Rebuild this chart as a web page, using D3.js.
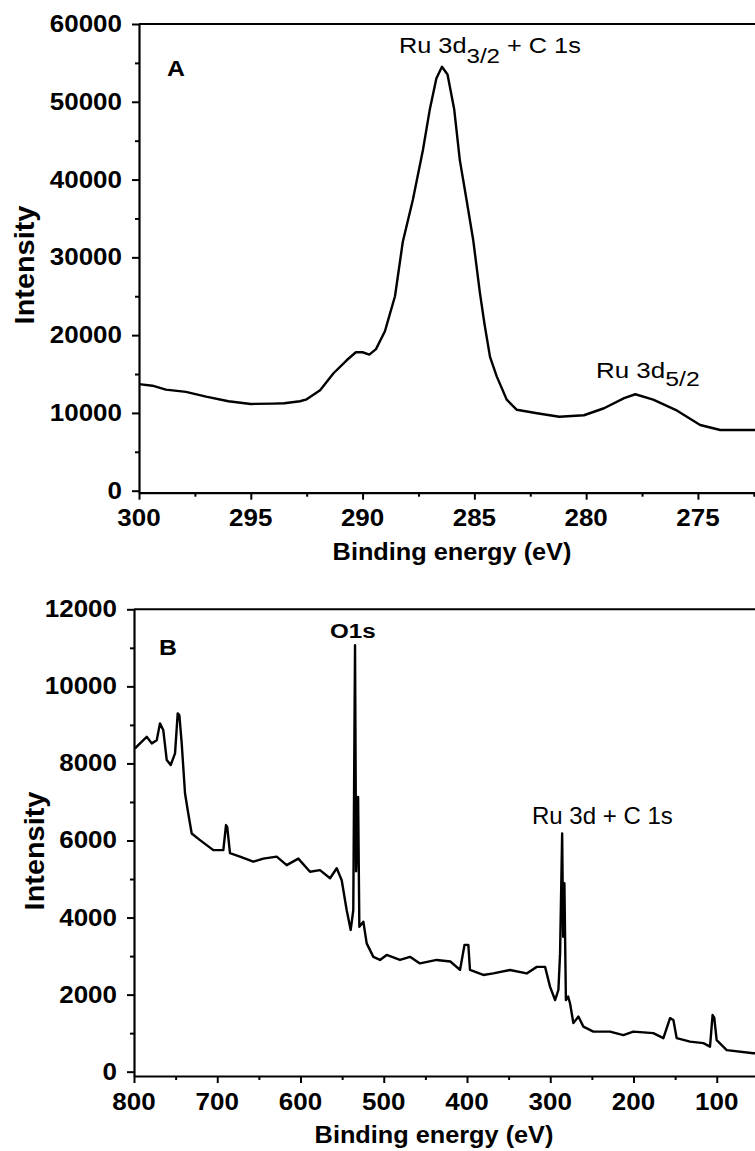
<!DOCTYPE html>
<html><head><meta charset="utf-8">
<script src="https://cdn.jsdelivr.net/npm/d3@7"></script>
<style>
body{margin:0;background:#fff}
svg{display:block}
text{font-family:"Liberation Sans",Arial,sans-serif;fill:#000}
</style>
</head><body>
<svg id="c" width="755" height="1151"></svg>
<script>
// ---------- Panel A data (Ru 3d + C 1s region) ----------
const energyA = [300,299.4,298.8,297.9,297.0,296.0,295.0,294.0,293.5,292.8,292.5,291.9,291.3,290.7,290.3,290.0,289.7,289.4,289.0,288.8,288.55,288.2,287.75,287.3,287.0,286.7,286.45,286.2,285.9,285.65,285.35,285.05,284.75,284.55,284.3,284.0,283.55,283.1,282.2,281.2,280.1,279.2,278.3,277.8,277.0,276.0,274.9,274.0,272.0];
const intensityA = [13700,13500,13000,12700,12100,11500,11150,11200,11250,11500,11750,12900,15100,16800,17800,17800,17500,18200,20500,22500,25000,32000,37400,43800,48900,53000,54500,53500,49000,42500,37400,32200,25400,21500,17200,14700,11700,10400,9950,9500,9700,10600,11900,12400,11700,10400,8450,7800,7800];
const xTicksA = [300,295,290,285,280,275];
const xMinorA = [297.5,292.5,287.5,282.5,277.5,272.5];
const yTicksA = [0,10000,20000,30000,40000,50000,60000];
const yMinorA = [5000,15000,25000,35000,45000,55000];

// ---------- Panel B data (survey) ----------
const energyB = [798.8,792.8,784.7,778.7,772.7,768.8,764.8,760.7,755.9,750.7,747.5,745.5,742.7,738.7,734.8,730.7,720.7,704.7,692.7,689.5,688,684.7,672.7,656.7,644.7,628.6,616.6,602.6,588.6,576.6,564.5,556.5,550.5,544.5,539.7,536.6,534.5,533.2,530.8,529.3,524.5,520.5,512.5,504.5,496.5,480.5,468.5,456.5,436.4,420,408.4,403,398.4,396.4,380.4,368.4,348.3,328.3,316.2,306.2,300.2,294.2,290.2,288.2,285.7,284.5,283.0,281.2,278.5,276.2,272.2,266.2,260.2,248.2,228.2,212.2,200.2,176.2,164.1,156.1,152.1,148.1,132.1,116.1,108.1,105,103,100.1,88,56,50];
const intensityB = [8390,8520,8690,8520,8600,9040,8860,8090,7960,8260,9300,9250,8520,7220,6700,6180,6010,5750,5750,6400,6350,5670,5580,5450,5530,5580,5360,5530,5190,5230,5020,5280,4970,4190,3680,4190,11070,5200,7130,3760,3890,3330,2980,2900,3030,2900,2980,2810,2900,2860,2640,3290,3290,2640,2510,2550,2640,2550,2720,2720,2200,1860,2120,3070,6180,3500,4890,1860,1950,1770,1260,1430,1170,1040,1040,950,1040,1000,870,1390,1340,870,780,740,650,1470,1400,820,560,480,470];
const xTicksB = [800,700,600,500,400,300,200,100];
const xMinorB = [750,650,550,450,350,250,150,50];
const yTicksB = [0,2000,4000,6000,8000,10000,12000];
const yMinorB = [1000,3000,5000,7000,9000,11000];

const svg = d3.select("#c");
const SX = 1.13; // horizontal glyph stretch seen in the reference

function label(g, x, y, str, o = {}) {
  const t = g.append("text")
    .attr("transform", `translate(${x},${y}) scale(${o.sx ?? SX},1)`)
    .attr("text-anchor", o.anchor || "start")
    .attr("font-size", o.size || 22)
    .attr("font-weight", o.weight || "bold")
    .text(str);
  return t;
}

function panel(cfg) {
  const g = svg.append("g");
  const x = d3.scaleLinear().domain(cfg.xDomain).range(cfg.xRange);
  const y = d3.scaleLinear().domain(cfg.yDomain).range(cfg.yRange);
  const yBase = cfg.yRange[0];
  const x0 = cfg.xRange[0];

  // top frame
  g.append("line").attr("x1", x0).attr("x2", cfg.xRange[1]).attr("y1", cfg.yRange[1]).attr("y2", cfg.yRange[1])
    .attr("stroke", "#000").attr("stroke-width", 2);

  // x axis
  g.append("g").attr("transform", `translate(0,${yBase})`)
    .call(d3.axisBottom(x).tickValues(cfg.xTicks).tickSize(7).tickSizeOuter(0).tickFormat(""));
  g.append("g").attr("transform", `translate(0,${yBase})`)
    .call(d3.axisBottom(x).tickValues(cfg.xMinor).tickSize(4).tickFormat(""))
    .call(s => s.select(".domain").remove());
  // y axis
  g.append("g").attr("transform", `translate(${x0},0)`)
    .call(d3.axisLeft(y).tickValues(cfg.yTicks).tickSize(7).tickSizeOuter(0).tickFormat(""));
  g.append("g").attr("transform", `translate(${x0},0)`)
    .call(d3.axisLeft(y).tickValues(cfg.yMinor).tickSize(4).tickFormat(""))
    .call(s => s.select(".domain").remove());
  g.selectAll(".domain").attr("stroke-width", 2.2);
  g.selectAll(".tick line").attr("stroke-width", 2);

  // tick labels
  cfg.xTicks.forEach(v => label(g, x(v), cfg.xLabelY, String(v), {anchor: "middle", size: 23}));
  cfg.yTicks.forEach(v => label(g, cfg.yLabelX, y(v) + 8, String(v), {anchor: "end", size: 23}));

  // axis titles
  label(g, cfg.xTitle[0], cfg.xTitle[1], "Binding energy (eV)", {anchor: "middle", size: 23, sx: 1.1});
  g.append("text")
    .attr("transform", `translate(${cfg.yTitle[0]},${cfg.yTitle[1]}) rotate(-90) scale(1.07,1)`)
    .attr("text-anchor", "middle").attr("font-size", 27).attr("font-weight", "bold")
    .text("Intensity");

  // data line
  const pts = cfg.ex.map((e, i) => [e, cfg.iy[i]]);
  g.append("path").datum(pts)
    .attr("fill", "none").attr("stroke", "#000").attr("stroke-width", 2.4).attr("stroke-linejoin", "round")
    .attr("d", d3.line().x(d => x(d[0])).y(d => y(d[1])));
  return {g, x, y};
}

const A = panel({
  xDomain: [300, 272], xRange: [139, 765],
  yDomain: [-257, 60000], yRange: [492.7, 24],
  xTicks: xTicksA, xMinor: xMinorA, yTicks: yTicksA, yMinor: yMinorA,
  xLabelY: 526, yLabelX: 122,
  xTitle: [452, 560], yTitle: [34, 265],
  ex: energyA, iy: intensityA
});
label(A.g, 167, 76, "A", {size: 22});
// Ru 3d3/2 + C 1s
{
  const t = A.g.append("text").attr("transform", `translate(399,53) scale(1.15,1)`)
    .attr("font-size", 22).attr("font-weight", "normal");
  t.append("tspan").text("Ru 3d");
  t.append("tspan").attr("dy", 10).attr("font-size", 21).text("3/2");
  t.append("tspan").attr("dy", -10).text(" + C 1s");
}
{
  const t = A.g.append("text").attr("transform", `translate(596,378) scale(1.18,1)`)
    .attr("font-size", 22).attr("font-weight", "normal");
  t.append("tspan").text("Ru 3d");
  t.append("tspan").attr("dy", 8).attr("font-size", 21).text("5/2");
}

const B = panel({
  xDomain: [800, 0], xRange: [134, 800],
  yDomain: [-112, 12000], yRange: [1076, 609.3],
  xTicks: xTicksB, xMinor: xMinorB, yTicks: yTicksB, yMinor: yMinorB,
  xLabelY: 1110, yLabelX: 117,
  xTitle: [434, 1143], yTitle: [44, 851],
  ex: energyB, iy: intensityB
});
label(B.g, 159, 655, "B", {size: 22});
label(B.g, 330, 638, "O1s", {size: 21, sx: 1.15});
label(B.g, 532, 824, "Ru 3d + C 1s", {size: 24, weight: "normal", sx: 1.0});
</script>
</body></html>
